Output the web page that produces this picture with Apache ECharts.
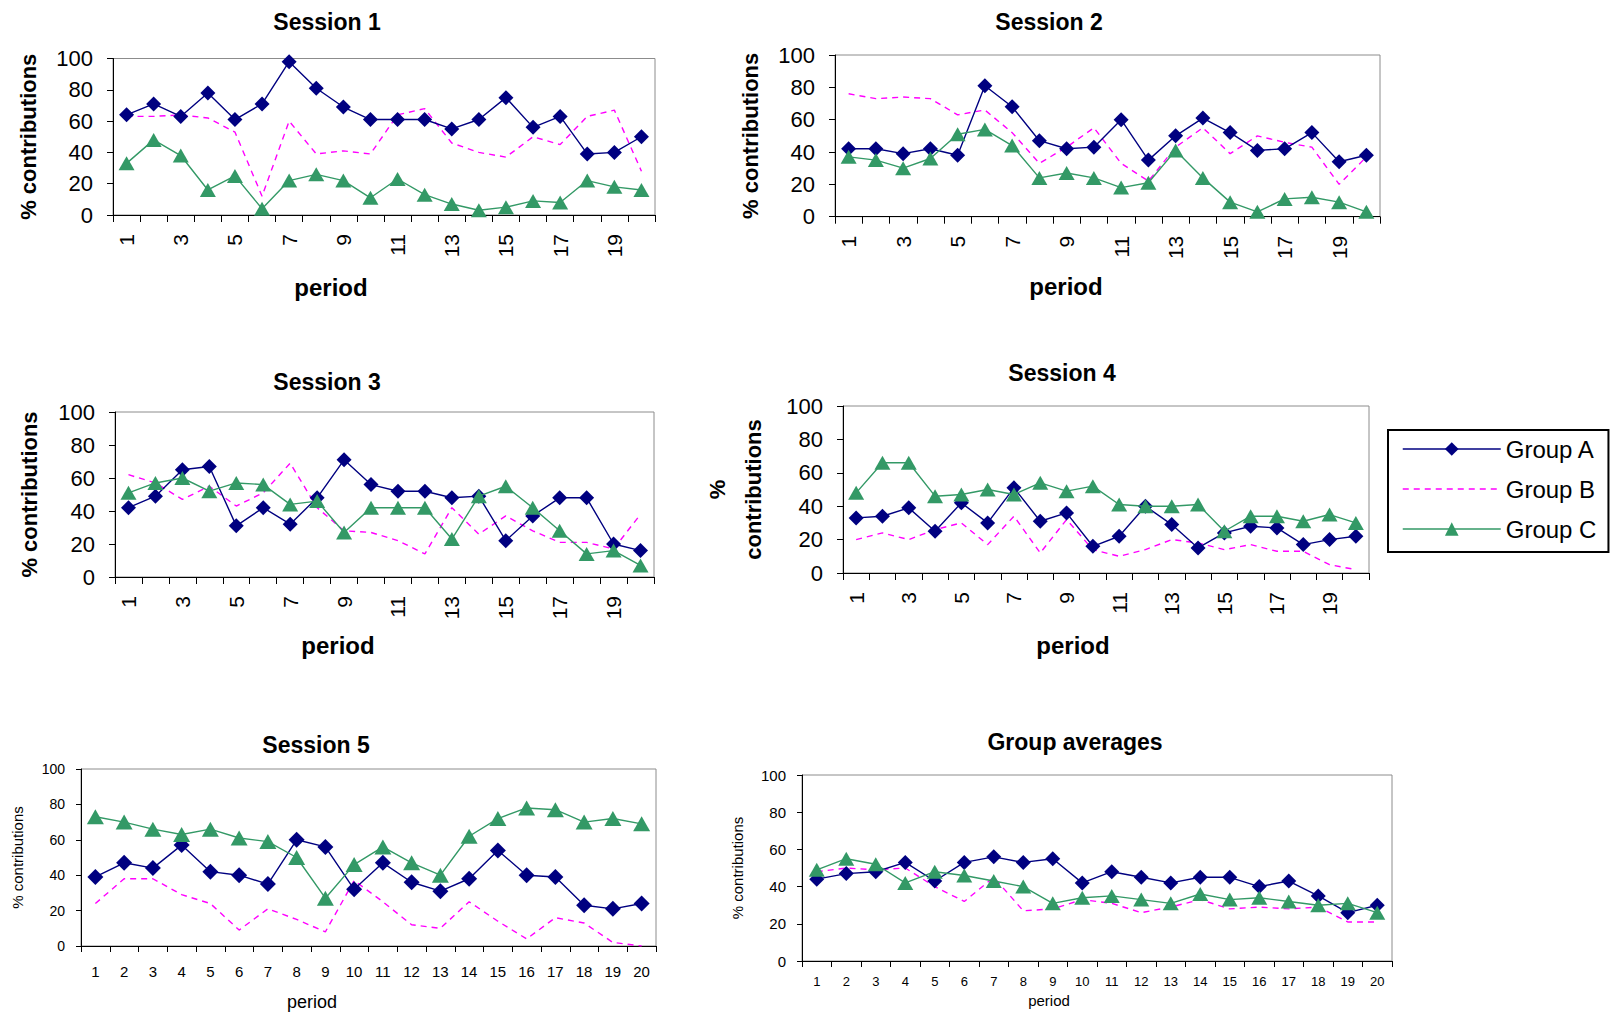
<!DOCTYPE html>
<html><head><meta charset="utf-8">
<script src="https://cdn.jsdelivr.net/npm/echarts@6/dist/echarts.min.js"></script>
<style>html,body{margin:0;padding:0;background:#fff}#c{width:1610px;height:1013px}</style>
</head><body><div id="c"></div>
<script>
// ---------- data ----------
const periods = ['1','2','3','4','5','6','7','8','9','10','11','12','13','14','15','16','17','18','19','20'];
const yTicks = [0, 20, 40, 60, 80, 100];
const groupNames = ['Group A', 'Group B', 'Group C'];
const panelTitles = ['Session 1', 'Session 2', 'Session 3', 'Session 4', 'Session 5', 'Group averages'];

const s1A = [64,71,63,78,61,71,98,81,69,61,61,61,55,61,75,56,63,39,40,50];
const s1B = [63,63,64,62,53,12,60,39,41,39,64,68,46,40,37,50,45,63,67,28];
const s1C = [33,48,38,16,25,4,22,26,22,11,23,13,7,3,5,9,8,22,18,16];

const s2A = [42,42,39,42,38,81,68,47,42,43,60,35,50,61,52,41,42,52,34,38];
const s2B = [76,73,74,73,63,66,52,33,43,55,33,22,43,55,39,50,46,43,20,37];
const s2C = [37,35,30,36,51,54,44,24,27,24,18,21,41,24,9,3,11,12,9,3];

const s3A = [42,49,65,67,31,42,32,48,71,56,52,52,48,49,22,37,48,48,20,16];
const s3B = [62,57,47,55,43,51,69,42,28,27,22,14,42,26,37,28,21,21,17,38];
const s3C = [51,57,60,52,57,56,44,46,27,42,42,42,23,49,55,42,28,14,16,7];

const s4A = [33,34,39,25,42,30,51,31,36,16,22,40,29,15,24,28,27,17,20,22];
const s4B = [20,24,20,26,30,17,34,12,32,14,10,14,20,18,14,17,13,13,5,2];
const s4C = [48,66,66,46,47,50,47,54,49,52,41,40,40,41,25,34,34,31,35,30];

const s5A = [39,47,44,57,42,40,35,60,56,32,47,36,31,38,54,40,39,23,21,24];
const s5B = [24,38,38,29,24,9,21,15,8,37,25,12,10,25,14,4,16,13,2,0];
const s5C = [73,70,66,63,66,61,59,50,27,46,56,47,40,62,72,78,77,70,72,69];

const avgA = [44,47,48,53,43,53,56,53,55,42,48,45,42,45,45,40,43,35,26,30];
const avgB = [48,50,49,50,40,32,45,27,28,33,31,26,29,33,28,29,28,29,21,21];
const avgC = [49,55,52,42,48,46,43,40,31,34,35,33,31,36,33,34,32,30,31,26];

const panelData = [
  [s1A, s1B, s1C], [s2A, s2B, s2C], [s3A, s3B, s3C],
  [s4A, s4B, s4C], [s5A, s5B, s5C], [avgA, avgB, avgC]
];

// ---------- layout / style ----------
const FONT = 'Liberation Sans';
const colA = '#000080', colB = '#ff00ff', colC = '#339966';

const layout = [
  {g:[113,58.5,542,156.5], t:[327,22], yName:'% contributions', yFs:22, yLH:22, yBold:true, yGap:74,
   xFs:24, xBold:true, xGap:60, xShift:53, labFs:21, labRot:90, labInt:1, labMar:19, yLabFs:22, yLabMar:20, tick:6, dS:15, tS:[16,14]},
  {g:[835,55,545,161.7], t:[1049,22], yName:'% contributions', yFs:22, yLH:22, yBold:true, yGap:74,
   xFs:24, xBold:true, xGap:58, xShift:41.5, labFs:21, labRot:90, labInt:1, labMar:19, yLabFs:22, yLabMar:20, tick:6, dS:15, tS:[16,14]},
  {g:[115,412,539,165], t:[327,382], yName:'% contributions', yFs:22, yLH:22, yBold:true, yGap:75,
   xFs:24, xBold:true, xGap:56, xShift:46.5, labFs:21, labRot:90, labInt:1, labMar:19, yLabFs:22, yLabMar:20, tick:6, dS:15, tS:[16,14]},
  {g:[843,406,526,167], t:[1062,373], yName:'%\ncontributions', yFs:22, yLH:36, yBold:true, yGap:72,
   xFs:24, xBold:true, xGap:60, xShift:33, labFs:21, labRot:90, labInt:1, labMar:19, yLabFs:22, yLabMar:20, tick:6, dS:15, tS:[16,14]},
  {g:[81,769,575,177], t:[316,745], yName:'% contributions', yFs:15, yLH:16, yBold:false, yGap:56,
   xFs:18, xBold:false, xGap:47, xShift:56.5, labFs:15, labRot:0, labInt:0, labMar:18, yLabFs:14, yLabMar:16, tick:5, dS:16, tS:[17,15]},
  {g:[802,775,590,186], t:[1075,742], yName:'% contributions', yFs:15, yLH:16, yBold:false, yGap:57,
   xFs:15, xBold:false, xGap:31.5, xShift:48, labFs:13, labRot:0, labInt:0, labMar:14, yLabFs:15, yLabMar:16, tick:5, dS:15, tS:[16,14]}
];

const grids = [], xAxes = [], yAxes = [], titles = [], series = [];
layout.forEach((L, i) => {
  grids.push({left:L.g[0], top:L.g[1], width:L.g[2], height:L.g[3], show:true,
    borderColor:'#8c8c8c', borderWidth:1, backgroundColor:'#fff', containLabel:false});
  titles.push({text:panelTitles[i], left:L.t[0], top:L.t[1]-12, textAlign:'center', padding:0,
    textStyle:{fontFamily:FONT, fontSize:23, fontWeight:'bold', lineHeight:24, color:'#000'}});
  xAxes.push({type:'category', gridIndex:i, data:periods, boundaryGap:true,
    name:'period', nameLocation:'middle', nameGap:L.xGap,
    nameTextStyle:{fontFamily:FONT, fontSize:L.xFs, lineHeight:L.xFs, fontWeight:L.xBold?'bold':'normal', color:'#000',
      padding:[0, 2*L.xShift, 0, 0]},
    axisLine:{show:true, lineStyle:{color:'#000', width:1}},
    axisTick:{show:true, interval:0, length:L.tick+1, lineStyle:{color:'#000'}},
    axisLabel:{interval:L.labInt, rotate:L.labRot, margin:L.labMar, fontFamily:FONT, fontSize:L.labFs, color:'#000', hideOverlap:false},
    splitLine:{show:false}});
  yAxes.push({type:'value', gridIndex:i, min:0, max:100, interval:20,
    name:L.yName, nameLocation:'middle', nameRotate:90, nameGap:L.yGap,
    nameTextStyle:{fontFamily:FONT, fontSize:L.yFs, lineHeight:L.yLH, fontWeight:L.yBold?'bold':'normal', color:'#000'},
    axisLine:{show:true, lineStyle:{color:'#000', width:1}},
    axisTick:{show:true, length:L.tick, lineStyle:{color:'#000'}},
    axisLabel:{margin:L.yLabMar, fontFamily:FONT, fontSize:L.yLabFs, color:'#000',
      formatter: v => (yTicks.indexOf(v) >= 0 ? String(v) : '')},
    splitLine:{show:false}});
  const d = panelData[i];
  series.push({name:groupNames[0], type:'line', xAxisIndex:i, yAxisIndex:i, data:d[0],
    symbol:'diamond', symbolSize:L.dS, itemStyle:{color:colA}, lineStyle:{color:colA, width:1.4}, z:3, animation:false});
  series.push({name:groupNames[1], type:'line', xAxisIndex:i, yAxisIndex:i, data:d[1],
    symbol:'none', itemStyle:{color:colB}, lineStyle:{color:colB, width:1.4, type:[6,5]}, z:2, animation:false});
  series.push({name:groupNames[2], type:'line', xAxisIndex:i, yAxisIndex:i, data:d[2],
    symbol:'triangle', symbolSize:L.tS, itemStyle:{color:colC}, lineStyle:{color:colC, width:1.4}, z:4, animation:false});
});

const option = {
  backgroundColor:'#fff',
  animation:false,
  textStyle:{fontFamily:FONT},
  title:titles,
  grid:grids,
  xAxis:xAxes,
  yAxis:yAxes,
  legend:{
    orient:'vertical', left:1388, top:430,
    data:[{name:groupNames[0]}, {name:groupNames[1], itemStyle:{opacity:0}}, {name:groupNames[2]}],
    itemWidth:98, itemHeight:17, itemGap:16,
    padding:[7,12,11,14],
    borderColor:'#000', borderWidth:2, borderRadius:0, backgroundColor:'#fff',
    lineStyle:{width:1.5},
    textStyle:{fontFamily:FONT, fontSize:24, lineHeight:17, color:'#000'},
    selectedMode:false
  },
  series:series
};

const chart = echarts.init(document.getElementById('c'), null, {renderer:'svg', width:1610, height:1013});
chart.setOption(option);
</script></body></html>
